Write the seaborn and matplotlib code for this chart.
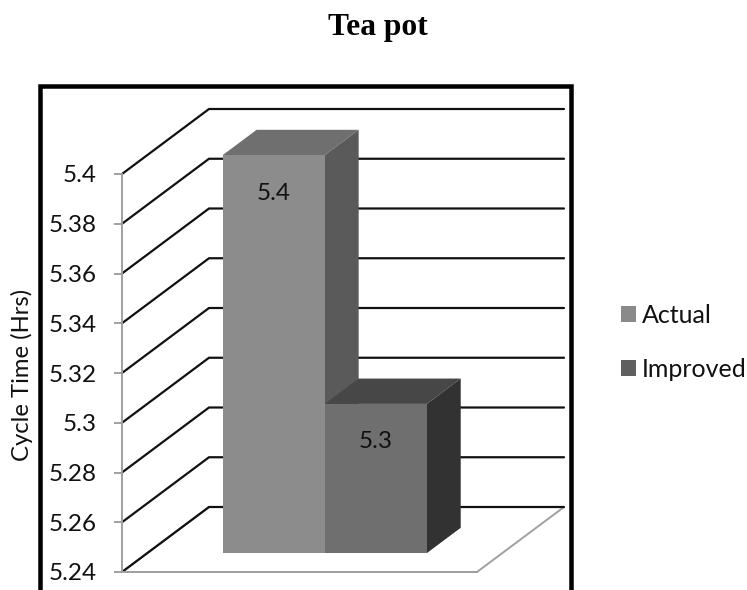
import numpy as np
import pandas as pd
import matplotlib
matplotlib.use("Agg")
import matplotlib.pyplot as plt
from matplotlib.patches import Patch, Polygon, Rectangle
from matplotlib.lines import Line2D
from matplotlib.transforms import IdentityTransform
import seaborn as sns

TITLE = "Tea pot"
PART = ["Tea pot", "Tea pot"]
SERIES = ["Actual", "Improved"]
VALUES = [5.4, 5.3]
TICKS = [5.24, 5.26, 5.28, 5.30, 5.32, 5.34, 5.36, 5.38, 5.40]
TICK_LABELS = ["5.24", "5.26", "5.28", "5.3", "5.32", "5.34", "5.36", "5.38", "5.4"]
YLABEL = "Cycle Time (Hrs)"

W, H, DPI = 747, 590, 100
FRONT = ["#8C8C8C", "#6F6F6F"]
TOP = ["#6F6F6F", "#474747"]
SIDE = ["#5A5A5A", "#323232"]
SWATCH = ["#8A8A8A", "#5F5F5F"]
DEPTH = np.array([87.0, 65.0])   # wall offset, pixels
D0, D1 = 0.29, 0.68              # bar depth range, fraction of DEPTH
px = 72 / DPI

sns.set_theme(style="white")
plt.rcParams["font.family"] = ["Lato", "DejaVu Sans"]

fig = plt.figure(figsize=(W / DPI, H / DPI), dpi=DPI, facecolor="white")
ax = fig.add_axes([122 / W, (H - 572) / H, 355 / W, 398 / H])

df = pd.DataFrame({"part": PART, "series": SERIES, "hours": VALUES})
sns.barplot(data=df, x="part", y="hours", hue="series", hue_order=SERIES,
            palette=dict(zip(SERIES, FRONT)), saturation=1, width=0.575,
            legend=False, linewidth=0, ax=ax, zorder=5)
ax.set_xlim(-0.5, 0.5)
ax.set_ylim(TICKS[0], TICKS[-1])
ax.set_xlabel("")
ax.set_xticks([])
ax.set_yticks(TICKS, TICK_LABELS)
ax.set_ylabel(YLABEL, fontsize=17.2, color="#111111")
ax.yaxis.set_label_coords((33 - 122) / 355, 0.495)
ax.tick_params(axis="y", length=8 * px, width=1.4, color="#A0A0A0", pad=17 * px,
               labelsize=17.5, labelcolor="#111111", left=True)
for name in ("top", "right"):
    ax.spines[name].set_visible(False)
for name in ("left", "bottom"):
    ax.spines[name].set_color("#A0A0A0")
    ax.spines[name].set_linewidth(1.4)
ax.patch.set_alpha(0)

ident = IdentityTransform()


def project(x, y, d=0.0):
    return ax.transData.transform((x, y)) + d * DEPTH


x0, x1 = ax.get_xlim()
# floor
floor = [project(x0, TICKS[0]), project(x1, TICKS[0]),
         project(x1, TICKS[0], 1), project(x0, TICKS[0], 1)]
ax.add_patch(Polygon(floor, closed=True, facecolor="white", edgecolor="#A0A0A0",
                     linewidth=1.4, transform=ident, clip_on=False, zorder=1))
# gridlines on walls
for t in TICKS:
    a, b = project(x0, t), project(x0, t, 1)
    c = project(x1, t, 1)
    ax.add_line(Line2D([a[0], b[0], c[0]], [a[1], b[1], c[1]], color="#111111",
                       linewidth=1.6, transform=ident, clip_on=False, zorder=2,
                       solid_joinstyle="miter"))

# bars: shift the seaborn fronts into the depth and add top and side faces
bars = [b for b in ax.patches if isinstance(b, Rectangle) and b.get_height() > 1]
bars = sorted(bars, key=lambda p: p.get_x())
for i, (bar, val) in enumerate(zip(bars, VALUES)):
    left, right = bar.get_x(), bar.get_x() + bar.get_width()
    base = TICKS[0]
    fl0 = project(left, base, D0); fr0 = project(right, base, D0)
    tl0 = project(left, val, D0);  tr0 = project(right, val, D0)
    tl1 = project(left, val, D1);  tr1 = project(right, val, D1)
    br1 = project(right, base, D1)
    z = 5 + i
    bar.set_visible(False)
    ax.add_patch(Polygon([fl0, fr0, tr0, tl0], closed=True, facecolor=FRONT[i],
                         edgecolor="none", transform=ident, clip_on=False, zorder=z + 0.2))
    ax.add_patch(Polygon([tl0, tr0, tr1, tl1], closed=True, facecolor=TOP[i],
                         edgecolor="none", transform=ident, clip_on=False, zorder=z + 0.1))
    ax.add_patch(Polygon([fr0, br1, tr1, tr0], closed=True, facecolor=SIDE[i],
                         edgecolor="none", transform=ident, clip_on=False, zorder=z + 0.1))
    cx, cy = project((left + right) / 2, val, D0)
    fig.text(cx / W, (cy - 38) / H, str(val), ha="center", va="center",
             fontsize=17.5, color="#111111", zorder=20)

# outer chart frame, running off the bottom of the picture
fig.add_artist(Rectangle((40 / W, -20 / H), 531 / W, (H - 86 + 20) / H,
                         transform=fig.transFigure, fill=False, edgecolor="black",
                         linewidth=4.5 * px, joinstyle="miter"))

fig.text(378 / W, 1 - 27 / H, TITLE, ha="center", va="center", fontsize=22.7,
         fontweight="bold", family="Liberation Serif", color="black")

handles = [Patch(facecolor=c, edgecolor="none", label=s) for c, s in zip(SWATCH, SERIES)]
fig.legend(handles=handles, loc="upper left", bbox_to_anchor=(621 / W, 1 - 304 / H),
           frameon=False, fontsize=18, handlelength=0.6, handleheight=0.6,
           handletextpad=0.25, labelspacing=1.24, borderpad=0, borderaxespad=0,
           labelcolor="#111111")

fig.savefig("out.png", dpi=DPI, facecolor="white")
